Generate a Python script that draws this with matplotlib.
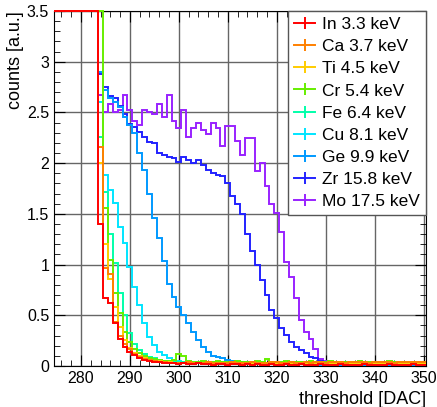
import numpy as np
import matplotlib
matplotlib.use('Agg')
import matplotlib.pyplot as plt
from matplotlib.lines import Line2D
from matplotlib.ticker import MultipleLocator

plt.rcParams['font.family'] = ['Liberation Sans', 'DejaVu Sans']

# threshold bins (DAC), one count value per integer threshold 275..350
thresholds = np.arange(275, 351)

# values above 3.5 are off-scale (saturated below the edge)
counts_In = [4.0, 4.0, 4.0, 4.0, 4.0, 4.0, 4.0, 4.0, 4.0,
             1.40, 0.67, 0.62, 0.42, 0.27, 0.19, 0.14, 0.11, 0.08, 0.06,
             0.05, 0.04, 0.04, 0.03, 0.03, 0.03, 0.02, 0.03, 0.02, 0.02,
             0.03, 0.02, 0.02, 0.01, 0.02, 0.02, 0.01, 0.02, 0.02, 0.01,
             0.02, 0.01, 0.02, 0.01, 0.01, 0.02, 0.01, 0.01, 0.02, 0.01,
             0.01, 0.02, 0.01, 0.01, 0.01, 0.02, 0.01, 0.01, 0.01, 0.02,
             0.01, 0.01, 0.01, 0.01, 0.02, 0.01, 0.01, 0.01, 0.01, 0.02,
             0.01, 0.01, 0.01, 0.01, 0.02, 0.01, 0.01]
counts_Ca = [4.0, 4.0, 4.0, 4.0, 4.0, 4.0, 4.0, 4.0, 4.0,
             2.16, 0.97, 0.91, 0.43, 0.30, 0.22, 0.17, 0.12, 0.09, 0.07,
             0.06, 0.05, 0.04, 0.04, 0.03, 0.03, 0.03, 0.03, 0.04, 0.03,
             0.03, 0.03, 0.04, 0.03, 0.03, 0.03, 0.03, 0.04, 0.03, 0.03,
             0.03, 0.04, 0.03, 0.03, 0.03, 0.04, 0.04, 0.03, 0.03, 0.04,
             0.03, 0.03, 0.04, 0.03, 0.04, 0.04, 0.03, 0.04, 0.04, 0.04,
             0.03, 0.04, 0.04, 0.04, 0.04, 0.03, 0.04, 0.04, 0.04, 0.04,
             0.03, 0.04, 0.04, 0.04, 0.04, 0.04, 0.04]
counts_Ti = [4.0, 4.0, 4.0, 4.0, 4.0, 4.0, 4.0, 4.0, 4.0,
             2.00, 1.20, 0.86, 0.58, 0.38, 0.26, 0.18, 0.13, 0.10, 0.08,
             0.06, 0.05, 0.05, 0.04, 0.04, 0.03, 0.03, 0.03, 0.03, 0.02,
             0.03, 0.02, 0.03, 0.02, 0.02, 0.03, 0.02, 0.02, 0.02, 0.03,
             0.02, 0.02, 0.02, 0.02, 0.03, 0.02, 0.02, 0.02, 0.02, 0.02,
             0.03, 0.02, 0.02, 0.02, 0.02, 0.02, 0.02, 0.03, 0.02, 0.02,
             0.02, 0.02, 0.02, 0.02, 0.02, 0.03, 0.02, 0.02, 0.02, 0.02,
             0.02, 0.02, 0.02, 0.02, 0.02, 0.02, 0.02]
counts_Cr = [4.0, 4.0, 4.0, 4.0, 4.0, 4.0, 4.0, 4.0, 4.0,
             4.00, 1.56, 1.05, 0.72, 0.52, 0.34, 0.24, 0.17, 0.13, 0.10,
             0.08, 0.07, 0.06, 0.05, 0.05, 0.06, 0.12, 0.10, 0.05, 0.04,
             0.04, 0.05, 0.04, 0.04, 0.05, 0.04, 0.04, 0.04, 0.05, 0.04,
             0.04, 0.04, 0.05, 0.04, 0.07, 0.04, 0.04, 0.04, 0.05, 0.04,
             0.04, 0.04, 0.04, 0.05, 0.04, 0.04, 0.04, 0.05, 0.04, 0.04,
             0.04, 0.04, 0.04, 0.05, 0.04, 0.04, 0.04, 0.04, 0.04, 0.05,
             0.04, 0.04, 0.04, 0.04, 0.04, 0.04, 0.04]
counts_Fe = [4.0, 4.0, 4.0, 4.0, 4.0, 4.0, 4.0, 4.0, 4.0,
             2.26, 1.72, 1.30, 1.02, 0.72, 0.50, 0.33, 0.22, 0.16, 0.12,
             0.09, 0.08, 0.06, 0.05, 0.05, 0.04, 0.04, 0.04, 0.03, 0.03,
             0.04, 0.03, 0.03, 0.03, 0.03, 0.04, 0.03, 0.03, 0.03, 0.03,
             0.03, 0.03, 0.04, 0.03, 0.03, 0.03, 0.03, 0.03, 0.03, 0.03,
             0.03, 0.03, 0.03, 0.03, 0.03, 0.03, 0.03, 0.03, 0.03, 0.03,
             0.03, 0.03, 0.03, 0.03, 0.03, 0.03, 0.03, 0.03, 0.03, 0.03,
             0.03, 0.03, 0.03, 0.03, 0.03, 0.03, 0.03]
counts_Cu = [4.0, 4.0, 4.0, 4.0, 4.0, 4.0, 4.0, 4.0, 4.0,
             2.60, 1.88, 1.74, 1.61, 1.37, 1.21, 0.98, 0.78, 0.60, 0.42,
             0.29, 0.21, 0.14, 0.11, 0.08, 0.06, 0.05, 0.04, 0.04, 0.03,
             0.03, 0.03, 0.02, 0.03, 0.02, 0.02, 0.02, 0.02, 0.02, 0.02,
             0.02, 0.02, 0.02, 0.02, 0.02, 0.02, 0.02, 0.02, 0.02, 0.02,
             0.02, 0.02, 0.02, 0.02, 0.02, 0.02, 0.02, 0.02, 0.02, 0.02,
             0.02, 0.02, 0.02, 0.02, 0.02, 0.02, 0.02, 0.02, 0.02, 0.02,
             0.02, 0.02, 0.02, 0.02, 0.02, 0.02, 0.02]
counts_Ge = [4.0, 4.0, 4.0, 4.0, 4.0, 4.0, 4.0, 4.0, 4.0,
             2.90, 2.72, 2.64, 2.60, 2.55, 2.45, 2.38, 2.30, 2.10, 1.93,
             1.70, 1.46, 1.26, 1.04, 0.81, 0.68, 0.58, 0.50, 0.42, 0.34,
             0.26, 0.19, 0.14, 0.10, 0.09, 0.08, 0.06, 0.05, 0.05, 0.04,
             0.04, 0.03, 0.03, 0.03, 0.03, 0.02, 0.02, 0.02, 0.02, 0.02,
             0.02, 0.02, 0.01, 0.02, 0.01, 0.01, 0.01, 0.01, 0.01, 0.01,
             0.01, 0.01, 0.01, 0.01, 0.01, 0.01, 0.01, 0.01, 0.01, 0.01,
             0.01, 0.01, 0.01, 0.01, 0.01, 0.01, 0.01]
counts_Zr = [4.0, 4.0, 4.0, 4.0, 4.0, 4.0, 4.0, 4.0, 4.0,
             2.88, 2.75, 2.66, 2.64, 2.56, 2.48, 2.39, 2.36, 2.31, 2.26,
             2.21, 2.20, 2.10, 2.08, 2.06, 2.05, 2.01, 2.06, 2.03, 2.00,
             2.03, 1.98, 1.93, 1.90, 1.88, 1.87, 1.80, 1.68, 1.60, 1.50,
             1.30, 1.13, 1.00, 0.85, 0.70, 0.55, 0.47, 0.37, 0.31, 0.24,
             0.19, 0.16, 0.13, 0.09, 0.08, 0.05, 0.03, 0.02, 0.02, 0.01,
             0.01, 0.01, 0.01, 0.01, 0.01, 0.01, 0.01, 0.01, 0.01, 0.01,
             0.01, 0.01, 0.01, 0.01, 0.01, 0.01, 0.01]
counts_Mo = [4.0, 4.0, 4.0, 4.0, 4.0, 4.0, 4.0, 4.0, 4.0,
             2.67, 2.50, 2.58, 2.50, 2.52, 2.67, 2.52, 2.42, 2.38, 2.52,
             2.50, 2.48, 2.58, 2.45, 2.67, 2.42, 2.35, 2.52, 2.26, 2.35,
             2.40, 2.33, 2.29, 2.40, 2.35, 2.17, 2.37, 2.37, 2.22, 2.08,
             2.25, 2.25, 1.92, 2.00, 1.77, 1.60, 1.51, 1.32, 1.03, 0.88,
             0.67, 0.45, 0.34, 0.27, 0.17, 0.07, 0.05, 0.03, 0.02, 0.02,
             0.01, 0.01, 0.02, 0.01, 0.01, 0.01, 0.02, 0.01, 0.01, 0.01,
             0.01, 0.02, 0.01, 0.01, 0.01, 0.01, 0.01]

labels = ['In 3.3 keV', 'Ca 3.7 keV', 'Ti 4.5 keV', 'Cr 5.4 keV', 'Fe 6.4 keV',
          'Cu 8.1 keV', 'Ge 9.9 keV', 'Zr 15.8 keV', 'Mo 17.5 keV']
series = [counts_In, counts_Ca, counts_Ti, counts_Cr, counts_Fe,
          counts_Cu, counts_Ge, counts_Zr, counts_Mo]
colors = ['#ff0000', '#ff8000', '#ffcc00', '#66ee00', '#00ffaa',
          '#00e5ff', '#0099ff', '#2222ff', '#9922ff']

edges = np.append(thresholds - 0.5, thresholds[-1] + 0.5)
y_max = 3.5

fig = plt.figure(figsize=(4.37, 4.07), dpi=100)
ax = fig.add_axes([0.1236, 0.1007, 0.8514, 0.8723])

# draw heaviest first so the low-energy curves end up on top;
# off-scale bins are pinned to the frame top
for vals, col in reversed(list(zip(series, colors))):
    ax.stairs(np.minimum(vals, y_max), edges, color=col, linewidth=1.4,
              baseline=None, zorder=3, clip_on=False)

ax.set_xlim(274.5, 350.5)
ax.set_ylim(0, y_max)
ax.xaxis.set_major_locator(MultipleLocator(10))
ax.xaxis.set_minor_locator(MultipleLocator(2))
ax.yaxis.set_major_locator(MultipleLocator(0.5))
ax.yaxis.set_minor_locator(MultipleLocator(0.1))
ax.set_yticks([0, 0.5, 1, 1.5, 2, 2.5, 3, 3.5])
ax.set_yticklabels(['0', '0.5', '1', '1.5', '2', '2.5', '3', '3.5'])
ax.tick_params(which='both', direction='in', top=True, right=True, labelsize=11.5)
ax.tick_params(which='major', length=8)
ax.tick_params(which='minor', length=4)
ax.grid(True, which='major', color='#666666', linewidth=1.0)

ax.set_xlabel('threshold [DAC]', fontsize=13, loc='right', labelpad=4)
ax.set_ylabel('counts [a.u.]', fontsize=13, loc='top', labelpad=2)

handles = [Line2D([], [], color=c, marker='|', markersize=9, markeredgewidth=1.4,
                  linewidth=1.4) for c in colors]
leg = ax.legend(handles, labels, loc='upper right', bbox_to_anchor=(1.0, 1.0),
                borderaxespad=0, fontsize=12.5, frameon=True, fancybox=False,
                edgecolor='#555555', framealpha=1, labelspacing=0.4,
                handlelength=1.2, handletextpad=0.4, borderpad=0.35)
leg.get_frame().set_linewidth(1.0)
leg.set_zorder(5)

fig.savefig('out.png', dpi=100)
